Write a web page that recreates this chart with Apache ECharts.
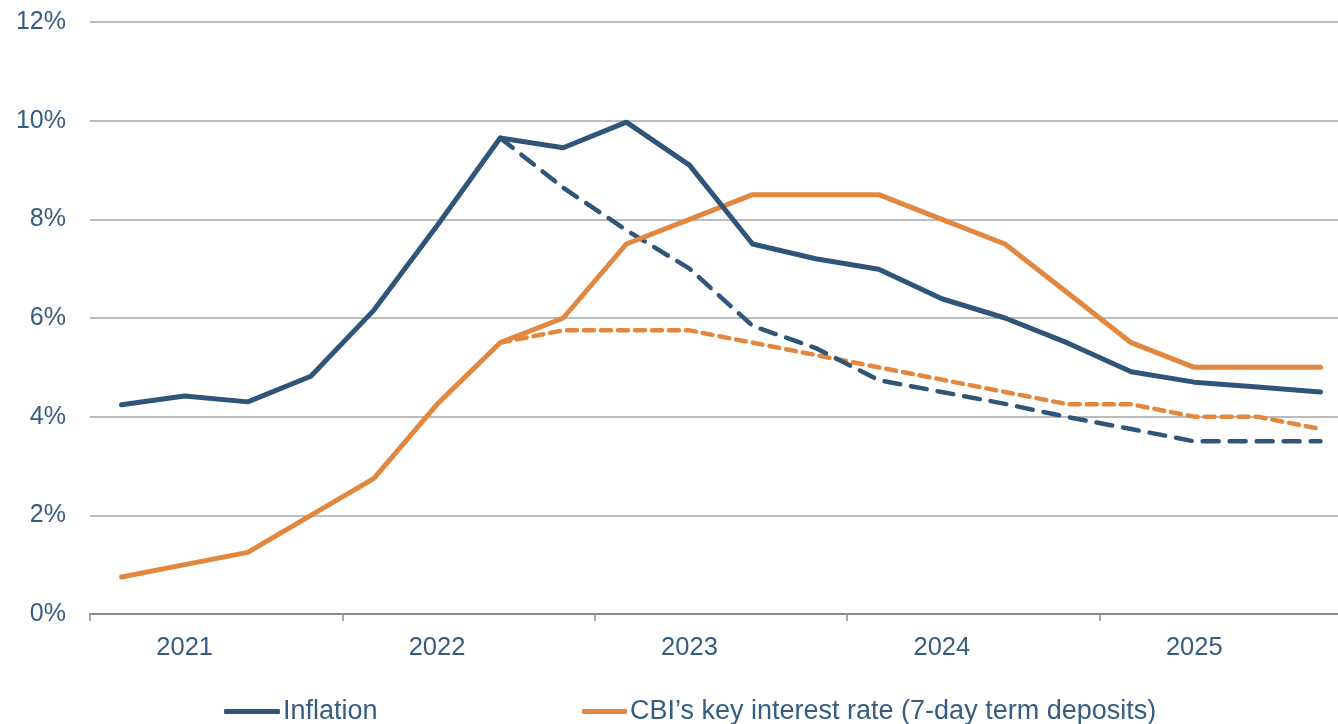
<!DOCTYPE html>
<html>
<head>
<meta charset="utf-8">
<style>
  html, body { margin: 0; padding: 0; background: #ffffff; }
  #chart { width: 1338px; height: 724px; }
</style>
<script src="https://cdn.jsdelivr.net/npm/echarts@6/dist/echarts.min.js"></script>
</head>
<body>
<div id="chart"></div>
<script>
// Quarterly periods, 2021 Q1 – 2025 Q4
const quarters = [
  '2021Q1','2021Q2','2021Q3','2021Q4',
  '2022Q1','2022Q2','2022Q3','2022Q4',
  '2023Q1','2023Q2','2023Q3','2023Q4',
  '2024Q1','2024Q2','2024Q3','2024Q4',
  '2025Q1','2025Q2','2025Q3','2025Q4'
];
const years = ['2021', '2022', '2023', '2024', '2025'];
const yTicks = [0, 2, 4, 6, 8, 10, 12];

// Inflation, % (outturn)
const inflation = [4.24, 4.42, 4.30, 4.82, 6.16, 7.87, 9.65, 9.45, 9.97, 9.10,
                   7.50, 7.20, 6.99, 6.39, 6.00, 5.49, 4.91, 4.70, 4.60, 4.50];
// Earlier inflation projection (from 2022Q3)
const inflationPrev = [null, null, null, null, null, null, 9.65, 8.64, 7.78, 7.00,
                       5.84, 5.39, 4.74, 4.50, 4.26, 3.99, 3.75, 3.50, 3.50, 3.50];
// CBI key interest rate, %
const keyRate = [0.75, 1.00, 1.25, 2.00, 2.75, 4.25, 5.50, 6.00, 7.50, 8.00,
                 8.50, 8.50, 8.50, 8.00, 7.50, 6.50, 5.50, 5.00, 5.00, 5.00];
// Earlier key-rate projection (from 2022Q3)
const keyRatePrev = [null, null, null, null, null, null, 5.50, 5.75, 5.75, 5.75,
                     5.50, 5.25, 5.00, 4.75, 4.50, 4.25, 4.25, 4.00, 4.00, 3.75];

const NAVY = '#2f5579';
const ORANGE = '#e2873f';
const TEXT = '#365c80';
const FONT = '"Liberation Sans", Arial, sans-serif';
const INFL_NAME = 'Inflation';
const RATE_NAME = 'CBI\u2019s key interest rate (7-day term deposits)';

const chart = echarts.init(document.getElementById('chart'), null, { renderer: 'canvas' });

const legendText = { color: TEXT, fontSize: 27, fontFamily: FONT, padding: [0, 0, 0, -2] };

chart.setOption({
  backgroundColor: '#ffffff',
  animation: false,
  textStyle: { fontFamily: FONT },
  // plot spans 20 quarters; the last year runs past the right edge of the canvas
  grid: {
    left: 90, width: 1262, top: 22, height: 592,
    containLabel: false,
    outerBoundsMode: 'none'
  },
  legend: [
    {
      data: [INFL_NAME],
      left: 224,
      top: 698,
      padding: 0,
      itemWidth: 56,
      itemHeight: 5,
      itemGap: 0,
      icon: 'roundRect',
      textStyle: legendText
    },
    {
      data: [RATE_NAME],
      left: 582,
      top: 698,
      padding: 0,
      itemWidth: 45,
      itemHeight: 5,
      itemGap: 0,
      icon: 'roundRect',
      textStyle: legendText
    }
  ],
  xAxis: [
    {
      // quarter axis: carries the data and the year labels (placed on each year's 2nd quarter)
      type: 'category',
      data: quarters,
      boundaryGap: true,
      position: 'bottom',
      axisLine: { show: false },
      axisTick: { show: false },
      axisLabel: {
        color: TEXT, fontSize: 25.5, margin: 21, fontFamily: FONT,
        interval: (i) => i % 4 === 1,
        formatter: (v) => v.slice(0, 4)
      },
      splitLine: { show: false }
    },
    {
      // year axis: baseline and year-boundary ticks
      type: 'category',
      data: years,
      boundaryGap: true,
      position: 'bottom',
      axisLine: { show: true, lineStyle: { color: '#8c8c8c', width: 2 } },
      axisTick: { show: true, length: 7, lineStyle: { color: '#8c8c8c', width: 1.5 } },
      axisLabel: { show: false },
      splitLine: { show: false }
    }
  ],
  yAxis: {
    type: 'value',
    min: 0,
    max: 12,
    interval: 2,
    axisLine: { show: false },
    axisTick: { show: false },
    axisLabel: {
      color: TEXT, fontSize: 25, margin: 24, fontFamily: FONT,
      formatter: v => (yTicks.includes(v) ? v + '%' : '')
    },
    splitLine: { show: true, lineStyle: { color: '#a6a6a6', width: 1.5 } }
  },
  series: [
    {
      name: INFL_NAME,
      type: 'line',
      xAxisIndex: 0,
      data: inflation,
      symbol: 'none',
      lineStyle: { color: NAVY, width: 5, cap: 'round', join: 'round' },
      itemStyle: { color: NAVY },
      z: 4
    },
    {
      name: RATE_NAME,
      type: 'line',
      xAxisIndex: 0,
      data: keyRate,
      symbol: 'none',
      lineStyle: { color: ORANGE, width: 5, cap: 'round', join: 'round' },
      itemStyle: { color: ORANGE },
      z: 3
    },
    {
      name: 'Inflation (earlier projection)',
      type: 'line',
      xAxisIndex: 0,
      data: inflationPrev,
      symbol: 'none',
      lineStyle: { color: NAVY, width: 4.5, type: [16, 11], cap: 'round' },
      itemStyle: { color: NAVY },
      z: 2
    },
    {
      name: 'Key rate (earlier projection)',
      type: 'line',
      xAxisIndex: 0,
      data: keyRatePrev,
      symbol: 'none',
      lineStyle: { color: ORANGE, width: 4.5, type: [10, 7], cap: 'round' },
      itemStyle: { color: ORANGE },
      z: 1
    }
  ]
});
</script>
</body>
</html>
